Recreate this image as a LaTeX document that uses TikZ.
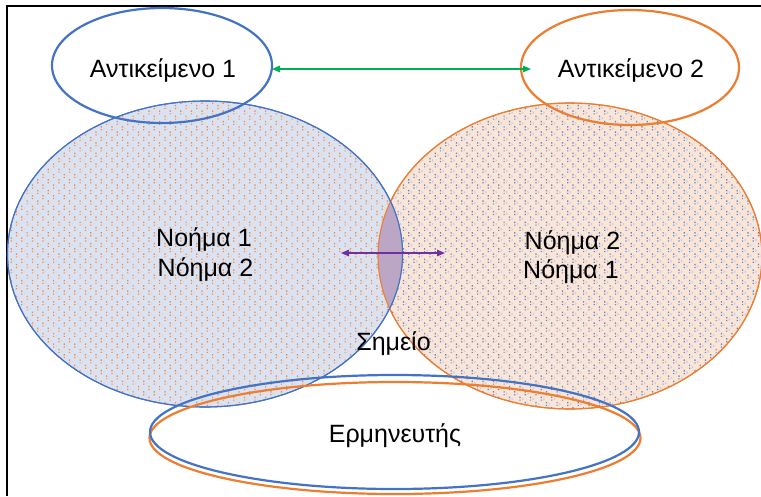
\documentclass[tikz,border=0pt]{standalone}
\usepackage{fontspec}
\setmainfont{Liberation Sans}
\usetikzlibrary{shapes.geometric,arrows.meta,patterns}

\definecolor{wblue}{HTML}{4472C4}
\definecolor{worange}{HTML}{ED7D31}
\definecolor{wgreen}{HTML}{00B050}
\definecolor{wpurple}{HTML}{7030A0}
\definecolor{lblue}{HTML}{DAE3F3}
\definecolor{lorange}{HTML}{FBE5D6}
\definecolor{lensfill}{RGB}{188,166,198}

% dotted texture: pairs of small dots, staggered
\pgfdeclarepatternformonly{wdots}{\pgfqpoint{-0.1pt}{-0.1pt}}{\pgfqpoint{10.8pt}{10.8pt}}{\pgfqpoint{10.6pt}{10.6pt}}{%
  \pgfpathrectangle{\pgfqpoint{0pt}{0pt}}{\pgfqpoint{1.2pt}{1.1pt}}%
  \pgfpathrectangle{\pgfqpoint{0pt}{2.6pt}}{\pgfqpoint{1.2pt}{1.5pt}}%
  \pgfpathrectangle{\pgfqpoint{5.3pt}{5.3pt}}{\pgfqpoint{1.2pt}{1.1pt}}%
  \pgfpathrectangle{\pgfqpoint{5.3pt}{7.9pt}}{\pgfqpoint{1.2pt}{1.5pt}}%
  \pgfusepath{fill}}
% small chevrons between the dots
\pgfdeclarepatternformonly{wchev}{\pgfqpoint{-0.1pt}{-0.1pt}}{\pgfqpoint{10.8pt}{10.8pt}}{\pgfqpoint{10.6pt}{10.6pt}}{%
  \pgfsetlinewidth{0.7pt}%
  \pgfpathmoveto{\pgfqpoint{2.7pt}{0.5pt}}\pgfpathlineto{\pgfqpoint{3.8pt}{1.6pt}}\pgfpathlineto{\pgfqpoint{2.7pt}{2.7pt}}%
  \pgfpathmoveto{\pgfqpoint{8.0pt}{5.8pt}}\pgfpathlineto{\pgfqpoint{9.1pt}{6.9pt}}\pgfpathlineto{\pgfqpoint{8.0pt}{8.0pt}}%
  \pgfusepath{stroke}}

\begin{document}
\begin{tikzpicture}[x=1pt,y=-1pt,
  txt/.style={font=\fontsize{25}{30}\selectfont, inner sep=0pt, anchor=base},
  oval/.style 2 args={ellipse, minimum width=#1, minimum height=#2, inner sep=0pt, outer sep=0pt},
  thickoval/.style={line width=2.2pt},
  bigoval/.style={line width=1.1pt},
  arr/.style={line width=1.3pt, {Triangle[length=8pt,width=6.5pt]}-{Triangle[length=8pt,width=6.5pt]}}]

\useasboundingbox (0,0) rectangle (761,496);
\fill[white] (0,0) rectangle (761,496);

% outer frame, open towards the right and bottom
\draw[line width=2pt] (761,5.7) -- (7.3,5.7) -- (7.3,496);

% two meaning fields
\node[oval={384}{306}, bigoval, draw=worange, fill=lorange,
      postaction={pattern=wchev, pattern color=wblue!35},
      postaction={pattern=wdots, pattern color=wblue!85}] (m2) at (570,256) {};
\node[oval={395}{306}, bigoval, draw=wblue, fill=lblue,
      postaction={pattern=wchev, pattern color=worange!35},
      postaction={pattern=wdots, pattern color=worange!90}] (m1) at (205,254) {};

% the sign: overlap of both fields
\begin{scope}
  \clip (m1.center) ellipse [x radius=197.5, y radius=153];
  \fill[lensfill] (m2.center) ellipse [x radius=192, y radius=153];
\end{scope}
\draw[bigoval, worange] (m2.center) ellipse [x radius=192, y radius=153];
\draw[bigoval, wblue] (m1.center) ellipse [x radius=197.5, y radius=153];

% objects
\node[oval={220}{115}, thickoval, draw=wblue] (o1) at (162,65.5) {};
\node[oval={218}{115}, thickoval, draw=worange] (o2) at (630,67.5) {};

% interpreter
\node[oval={491}{112}, thickoval, draw=worange] (e2) at (395,438) {};
\node[oval={489}{114}, thickoval, draw=wblue] (e1) at (394.5,432) {};

% labels
\node[txt] (t1) at (163,77.3) {Αντικείμενο 1};
\node[txt] (t2) at (631,77.3) {Αντικείμενο 2};
\node[txt] (m1a) at (204,246) {Νοήμα 1};
\node[txt] (m1b) at (205.5,276.7) {Νόημα 2};
\node[txt] (m2a) at (572.5,249) {Νόημα 2};
\node[txt] (m2b) at (571,278) {Νόημα 1};
\node[txt] (sign) at (393.5,350.7) {Σημείο};
\node[txt] (interp) at (395,442.7) {Ερμηνευτής};

% arrows
\coordinate (g2) at (531,69);
\coordinate (g1) at (o1.east |- g2);
\draw[arr, wgreen] (g1) -- (g2);
\coordinate (p1) at (341,253);
\coordinate (p2) at (445,253);
\draw[arr, wpurple] (p1) -- (p2);
\end{tikzpicture}
\end{document}
